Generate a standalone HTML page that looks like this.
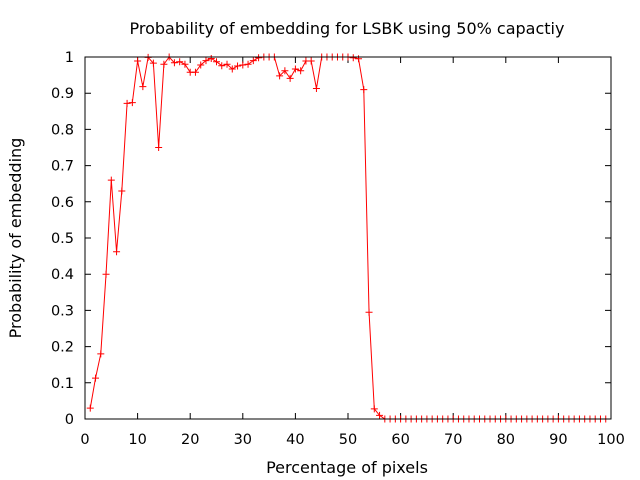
<!DOCTYPE html>
<html><head><meta charset="utf-8"><style>
body{margin:0;background:#fff;}
svg{display:block;font-family:"DejaVu Sans","Liberation Sans",sans-serif;}
</style></head><body>
<svg id="chart" width="640" height="480">
<rect width="640" height="480" fill="#fff"/>
<text x="347" y="34" text-anchor="middle" font-size="16">Probability of embedding for LSBK using 50% capactiy</text>
<text x="347" y="473" text-anchor="middle" font-size="16">Percentage of pixels</text>
<text transform="translate(21,238) rotate(-90)" text-anchor="middle" font-size="16">Probability of embedding</text>
<g id="axes"></g>
<g id="series"></g>
<rect x="85" y="57" width="526" height="362" fill="none" stroke="#000" stroke-width="1"/>
</svg>
<script>
const xTicks=[0,10,20,30,40,50,60,70,80,90,100];
const yTicks=[0,0.1,0.2,0.3,0.4,0.5,0.6,0.7,0.8,0.9,1];
const yTickLabels=["0","0.1","0.2","0.3","0.4","0.5","0.6","0.7","0.8","0.9","1"];
const xValues=[];for(let i=1;i<=99;i++)xValues.push(i);
const probValues=[0.03,0.113,0.18,0.40,0.66,0.462,0.63,0.872,0.874,0.989,0.918,0.999,0.983,0.75,0.98,1.0,0.984,0.987,0.98,0.958,0.958,0.978,0.99,0.996,0.987,0.976,0.98,0.967,0.975,0.978,0.98,0.99,0.998,1,1,1,0.948,0.962,0.941,0.967,0.962,0.989,0.989,0.913,1,1,1,1,1,1,0.998,0.995,0.91,0.295,0.028,0.01,0,0,0,0,0,0,0,0,0,0,0,0,0,0,0,0,0,0,0,0,0,0,0,0,0,0,0,0,0,0,0,0,0,0,0,0,0,0,0,0,0,0,0];
const X0=85,X1=611,Y0=419,Y1=57;
const sx=v=>X0+(v-0)/(100-0)*(X1-X0);
const sy=v=>Y0-(v-0)/(1-0)*(Y0-Y1);
const NS="http://www.w3.org/2000/svg";
const axes=document.getElementById('axes'),series=document.getElementById('series');
function mk(t,a,p){const e=document.createElementNS(NS,t);for(const k in a)e.setAttribute(k,a[k]);p.appendChild(e);return e;}
xTicks.forEach(v=>{
 const x=sx(v);
 const t=mk('path',{d:`M${x},${Y0}v-6M${x},${Y1}v6`,stroke:'#000','stroke-width':1},axes);
 
 
 const l=mk('text',{x:x,y:444,'text-anchor':'middle','font-size':14.5},axes);l.textContent=String(v);
 
 
});
yTicks.forEach((v,i)=>{
 const y=sy(v);
 const t=mk('path',{d:`M${X0},${y}h6M${X1},${y}h-6`,stroke:'#000','stroke-width':1},axes);
 
 
 const l=mk('text',{x:74,y:y+5,'text-anchor':'end','font-size':14.5},axes);l.textContent=yTickLabels[i];
 
 
});
const pts=xValues.map((x,i)=>[sx(x),sy(probValues[i])]);
const line=mk('polyline',{points:pts.map(p=>p.join(',')).join(' '),fill:'none',stroke:'#f00','stroke-width':1},series);


pts.forEach(p=>{
 const m=mk('path',{d:`M${p[0]-3.5},${p[1]}h7M${p[0]},${p[1]-3.5}v7`,stroke:'#f00','stroke-width':1},series);
 
 
});
</script>
</body></html>
